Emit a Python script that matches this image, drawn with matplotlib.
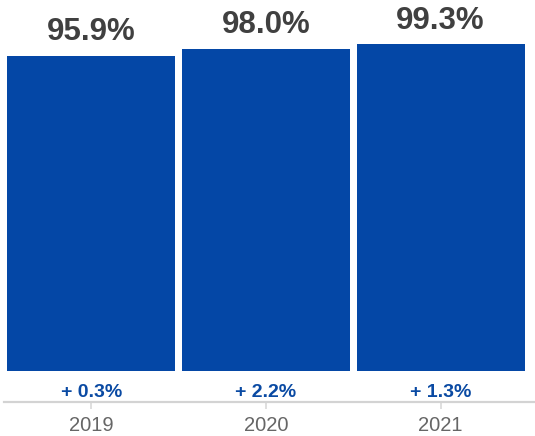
import matplotlib.pyplot as plt
import numpy as np

plt.rcParams['font.family'] = ['Liberation Sans', 'DejaVu Sans']

years = ['2019', '2020', '2021']
values = [95.9, 98.0, 99.3]
changes = ['+ 0.3%', '+ 2.2%', '+ 1.3%']

bar_color = '#0447a6'
x = np.arange(len(years))

fig = plt.figure(figsize=(5.35, 4.36), dpi=100)
ax = fig.add_axes([4 / 535, 34 / 436, 531 / 535, 402 / 436])

bars = ax.bar(x, values, width=0.96, color=bar_color, zorder=2)

# value labels above each bar
for b, v in zip(bars, values):
    ax.annotate(f'{v:.1f}%', (b.get_x() + b.get_width() / 2, v),
                xytext=(0, 6), textcoords='offset points',
                ha='center', va='bottom', fontsize=22.5,
                fontweight='bold', color='#404040')

# year-over-year change under each bar
for xi, c in zip(x, changes):
    ax.text(xi, -6.4, c, ha='center', va='center', fontsize=14,
            fontweight='bold', color='#0a4aa3')

ax.set_xlim(-0.5, 2.54)
ax.set_ylim(-9.4, 112.8)
ax.set_xticks(x)
ax.set_xticklabels(years, fontsize=14.5, color='#666666')
ax.tick_params(axis='x', length=5, width=1.2, color='#d9d9d9', pad=5)
ax.set_yticks([])
for s in ['top', 'right', 'left']:
    ax.spines[s].set_visible(False)
ax.spines['bottom'].set_color('#d3d3d3')
ax.spines['bottom'].set_linewidth(1.6)
ax.patch.set_alpha(0)

fig.savefig('out.png', dpi=100)
